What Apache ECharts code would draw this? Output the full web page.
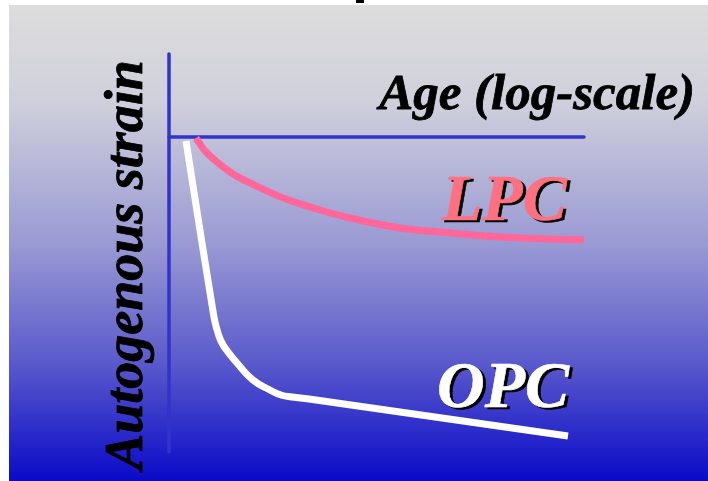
<!DOCTYPE html>
<html>
<head>
<meta charset="utf-8">
<script src="https://cdn.jsdelivr.net/npm/echarts@6/dist/echarts.min.js"></script>
<style>
html,body{margin:0;padding:0;background:#fff;}
#chart{width:708px;height:481px;}
</style>
</head>
<body>
<div id="chart"></div>
<script>
// Log-age (arbitrary units) and autogenous strain (arbitrary units, negative = shrinkage)
var lpcAge    = [27, 31, 36, 48, 64, 81, 114, 151, 181, 231, 281, 331, 381, 415];
var lpcStrain = [-1, -7, -14, -25, -37, -46, -61, -73, -81, -91, -96, -100, -102, -103];
var opcAge    = [17, 30, 43, 46, 49, 53, 59, 68, 84, 101, 112, 123, 140, 399];
var opcStrain = [-4, -87, -168, -185, -196, -206, -215, -226, -243, -253, -258, -260, -262, -299];
var xAxisTitle = 'Age (log-scale)';
var yAxisTitle = 'Autogenous strain';
var lpcName = 'LPC';
var opcName = 'OPC';

function pairs(a, b) { return a.map(function (v, i) { return [v, b[i]]; }); }

var axisColor = '#3333cc';
var serif = '"Liberation Serif", "Times New Roman", serif';

function label(text, x, y, color, size) {
  var font = 'italic bold ' + size + 'px ' + serif;
  return [
    {type: 'text', z: 10, x: x + 3, y: y + 2,
     style: {text: text, fill: '#000', font: font, textAlign: 'left', textVerticalAlign: 'middle',
             stroke: '#000', lineWidth: 0.6}},
    {type: 'text', z: 11, x: x, y: y,
     style: {text: text, fill: color, font: font, textAlign: 'left', textVerticalAlign: 'middle',
             stroke: color, lineWidth: 0.6}}
  ];
}

var graphics = [
  {type: 'rect', z: -10, shape: {x: 9, y: 5, width: 699, height: 476},
   style: {fill: new echarts.graphic.LinearGradient(0, 0, 0, 1, [
     {offset: 0, color: '#dddddd'},
     {offset: 0.2, color: '#d0d0dc'},
     {offset: 0.5, color: '#9a9ad4'},
     {offset: 0.75, color: '#5a5acc'},
     {offset: 1, color: '#0a0ac8'}
   ])}},
  {type: 'rect', z: -5, shape: {x: 356, y: 0, width: 8, height: 3}, style: {fill: '#000'}},
  {type: 'text', z: 10, x: 695, y: 96,
   style: {text: xAxisTitle, fill: '#000', font: 'italic bold 51px ' + serif,
           textAlign: 'right', textVerticalAlign: 'middle', stroke: '#000', lineWidth: 0.8}},
  {type: 'text', z: 10, x: 128, y: 265, rotation: Math.PI / 2,
   style: {text: yAxisTitle, fill: '#000', font: 'italic bold 54px ' + serif,
           textAlign: 'center', textVerticalAlign: 'middle', stroke: '#000', lineWidth: 0.8}}
].concat(label(lpcName, 442, 203, '#ff7080', 66))
 .concat(label(opcName, 437, 390, '#ffffff', 66));

var chart = echarts.init(document.getElementById('chart'), null, {renderer: 'canvas'});
chart.setOption({
  animation: false,
  backgroundColor: '#ffffff',
  grid: {left: 169, right: 124, top: 54, bottom: 29, containLabel: false},
  xAxis: {
    type: 'value', min: 0, max: 415,
    axisLine: {show: true, onZero: true, lineStyle: {color: axisColor, width: 3.5}},
    axisTick: {show: false}, axisLabel: {show: false}, splitLine: {show: false}
  },
  yAxis: {
    type: 'value', min: -315, max: 83,
    axisLine: {show: true, onZero: true, lineStyle: {color: axisColor, width: 3.5}},
    axisTick: {show: false}, axisLabel: {show: false}, splitLine: {show: false}
  },
  graphic: graphics,
  series: [
    {type: 'line', name: lpcName, data: pairs(lpcAge, lpcStrain), showSymbol: false, smooth: 0.3,
     clip: false, lineStyle: {color: '#ff6699', width: 7, cap: 'butt'}},
    {type: 'line', name: opcName, data: pairs(opcAge, opcStrain), showSymbol: false, smooth: 0.5,
     clip: false, lineStyle: {color: '#ffffff', width: 7, cap: 'butt'}}
  ]
});
</script>
</body>
</html>
